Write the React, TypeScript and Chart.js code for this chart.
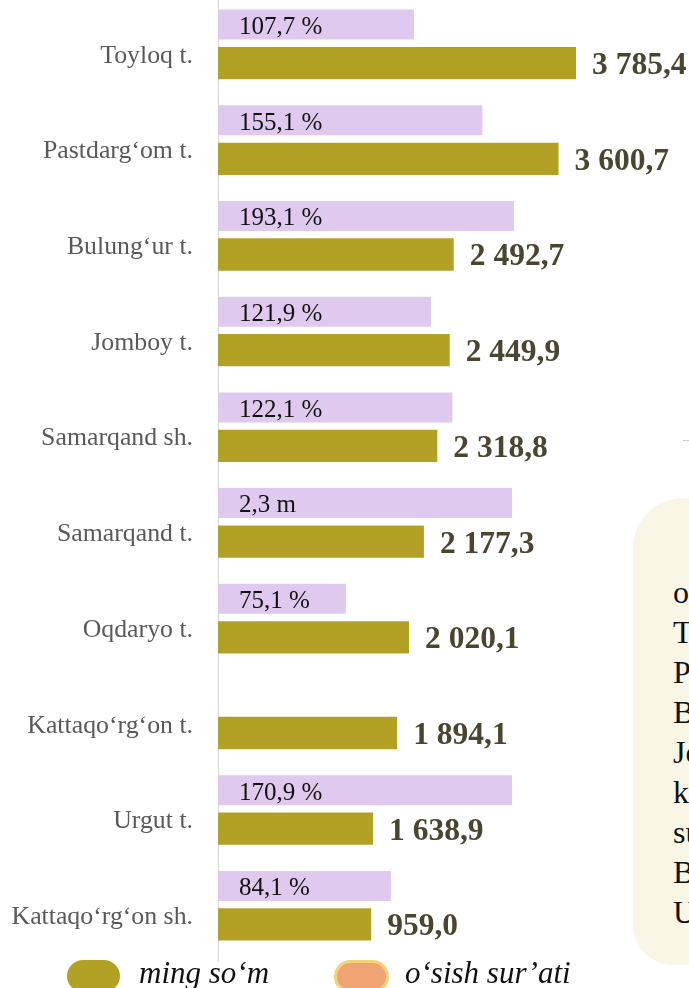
import React, { useEffect, useRef } from "react";
import { Chart, registerables } from "chart.js";

Chart.register(...registerables);

const categories = [
  "Toyloq t.",
  "Pastdarg‘om t.",
  "Bulung‘ur t.",
  "Jomboy t.",
  "Samarqand sh.",
  "Samarqand t.",
  "Oqdaryo t.",
  "Kattaqo‘rg‘on t.",
  "Urgut t.",
  "Kattaqo‘rg‘on sh.",
];
// bar lengths as drawn (ming so'm)
const goldValues = [3785.4, 3600.7, 2492.7, 2449.9, 2318.8, 2177.3, 2020.1, 1894.1, 1638.9, 1620];
const goldLabels = ["3 785,4", "3 600,7", "2 492,7", "2 449,9", "2 318,8", "2 177,3", "2 020,1", "1 894,1", "1 638,9", "959,0"];
// growth bar lengths as drawn (own scale)
const growthValues: (number | null)[] = [107.1, 144.5, 161.7, 116.4, 128.1, 160.7, 69.9, null, 160.7, 94.5];
const growthLabels = ["107,7 %", "155,1 %", "193,1 %", "121,9 %", "122,1 %", "2,3 m", "75,1 %", "", "170,9 %", "84,1 %"];
const legendLabels = ["ming so‘m", "o‘sish sur’ati"];
const sideLines = ["o‘rtacha", "Toyloq", "Pastdarg‘om", "Bulung‘ur", "Jomboy", "kabi", "sur’ati", "Bulung‘ur", "Urgut"];

const GOLD = "#B3A126";
const PINK = "#DFC9EE";
const SALMON = "#F0A473";
const SALMON_BORDER = "#F1D37A";
const SERIF = "'Liberation Serif', 'Times New Roman', serif";

const overlayPlugin = {
  id: "overlay",
  beforeDatasetsDraw(chart: any) {
    const ctx = chart.ctx;
    const left = chart.chartArea.left;
    ctx.save();
    ctx.strokeStyle = "#D9D9D9";
    ctx.lineWidth = 1.2;
    ctx.beginPath();
    ctx.moveTo(left + 0.5, 4);
    ctx.lineTo(left + 0.5, 966);
    ctx.stroke();
    ctx.restore();
  },
  afterDatasetsDraw(chart: any) {
    const ctx = chart.ctx;
    const left = chart.chartArea.left;
    const pinkMeta = chart.getDatasetMeta(0);
    const goldMeta = chart.getDatasetMeta(1);
    ctx.save();
    ctx.textBaseline = "alphabetic";
    ctx.textAlign = "left";
    // growth labels
    ctx.font = `25px ${SERIF}`;
    ctx.fillStyle = "#111111";
    pinkMeta.data.forEach((el: any, i: number) => {
      const t = growthLabels[i];
      if (!t) return;
      ctx.fillText(t, left + 21, el.y + 9.3);
    });
    // value labels
    ctx.font = `bold 31.5px ${SERIF}`;
    ctx.fillStyle = "#4A4530";
    goldMeta.data.forEach((el: any, i: number) => {
      ctx.fillText(goldLabels[i], el.x + 16, el.y + 11);
    });
    // legend
    const items = [
      { x: 67, y: 964, w: 53, h: 32, fill: GOLD, stroke: null as string | null, tx: 139 },
      { x: 335.5, y: 965.5, w: 52, h: 30, fill: SALMON, stroke: SALMON_BORDER, tx: 405 },
    ];
    items.forEach((it, i) => {
      ctx.beginPath();
      ctx.roundRect(it.x, it.y, it.w, it.h, it.h / 2);
      ctx.fillStyle = it.fill;
      ctx.fill();
      if (it.stroke) {
        ctx.lineWidth = 3;
        ctx.strokeStyle = it.stroke;
        ctx.stroke();
      }
      ctx.font = `italic 31px ${SERIF}`;
      ctx.fillStyle = "#111111";
      ctx.fillText(legendLabels[i], it.tx, 987.3);
    });
    ctx.restore();
  },
};

function BarChart() {
  const ref = useRef<HTMLCanvasElement | null>(null);
  useEffect(() => {
    if (!ref.current) return;
    const chart = new Chart(ref.current, {
      type: "bar",
      data: {
        labels: categories,
        datasets: [
          {
            label: legendLabels[1],
            data: growthValues as any,
            xAxisID: "x2",
            backgroundColor: PINK,
            categoryPercentage: 0.804,
            barPercentage: 0.78,
          },
          {
            label: legendLabels[0],
            data: goldValues,
            xAxisID: "x",
            backgroundColor: GOLD,
            categoryPercentage: 0.804,
            barPercentage: 0.84,
          },
        ],
      },
      options: {
        indexAxis: "y",
        animation: false,
        responsive: false,
        layout: { padding: { top: 0, right: 0, bottom: 43, left: 0 } },
        scales: {
          x: { type: "linear", axis: "x", display: false, min: 0, max: 4980 },
          x2: { type: "linear", axis: "x", display: false, min: 0, max: 257.4 },
          y: {
            grid: { display: false, drawTicks: false },
            border: { display: false },
            ticks: {
              padding: 25,
              labelOffset: 12,
              color: "#595959",
              font: { family: SERIF, size: 25.8 },
            },
            afterFit: (s: any) => {
              s.width = 218;
              s.paddingTop = 0;
              s.paddingBottom = 0;
            },
          },
        },
        plugins: { legend: { display: false }, tooltip: { enabled: false } },
      } as any,
      plugins: [overlayPlugin],
    });
    return () => chart.destroy();
  }, []);
  return (
    <canvas
      ref={ref}
      width={689}
      height={1000}
      style={{ position: "absolute", left: 0, top: -4, width: 689, height: 1000 }}
    />
  );
}

export default function App() {
  return (
    <div
      style={{
        position: "fixed",
        left: 0,
        top: 0,
        width: 689,
        height: 988,
        overflow: "hidden",
        background: "#ffffff",
      }}
    >
      <BarChart />
      <div
        style={{
          position: "absolute",
          left: 683,
          top: 440,
          width: 8,
          height: 1,
          background: "#C8C8C8",
        }}
      />
      <div
        style={{
          position: "absolute",
          left: 633,
          top: 498,
          width: 120,
          height: 467,
          background: "#FAF6E6",
          borderTopLeftRadius: 50,
          borderBottomLeftRadius: 40,
          overflow: "hidden",
          fontFamily: SERIF,
          fontSize: 32,
          lineHeight: "40px",
          color: "#111111",
          whiteSpace: "nowrap",
          boxSizing: "border-box",
          paddingLeft: 40,
          paddingTop: 74,
        }}
      >
        {sideLines.map((t, i) => (
          <div key={i}>{t}</div>
        ))}
      </div>
    </div>
  );
}
